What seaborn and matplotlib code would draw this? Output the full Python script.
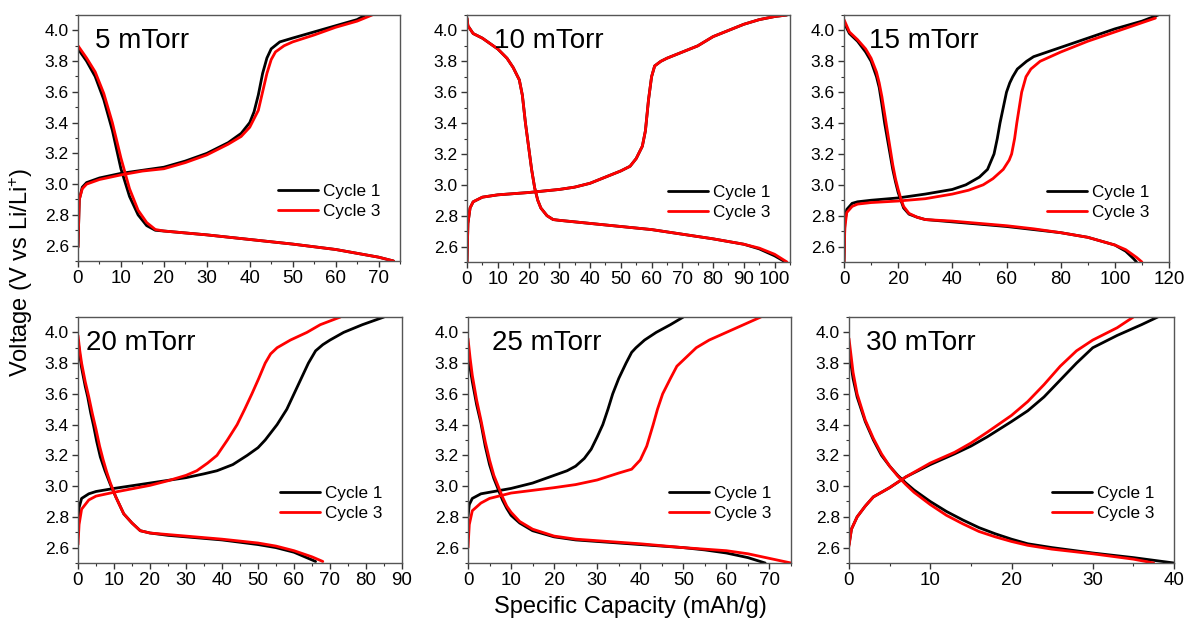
import numpy as np
import pandas as pd
import matplotlib
matplotlib.use("Agg")
import matplotlib.pyplot as plt
from matplotlib.lines import Line2D
from matplotlib.ticker import MultipleLocator, FormatStrFormatter
import seaborn as sns

# ---------------- data ----------------
panel_titles = ["5 mTorr", "10 mTorr", "15 mTorr", "20 mTorr", "25 mTorr", "30 mTorr"]
cycle_labels = ["Cycle 1", "Cycle 3"]

# 5 mTorr
p5_c1_dis_x = [0, 2, 4, 6, 8, 10, 12, 14, 16, 18, 20, 30, 40, 50, 60, 70, 73.5]
p5_c1_dis_y = [3.88, 3.80, 3.70, 3.55, 3.35, 3.10, 2.92, 2.80, 2.73, 2.70, 2.695, 2.67, 2.64, 2.61, 2.575, 2.525, 2.50]
p5_c3_dis_x = [0, 2, 4, 6, 8, 10, 12, 14, 16, 18, 20, 30, 40, 50, 60, 70, 73.5]
p5_c3_dis_y = [3.90, 3.82, 3.73, 3.59, 3.40, 3.17, 2.97, 2.83, 2.75, 2.705, 2.695, 2.67, 2.64, 2.61, 2.575, 2.525, 2.50]
p5_c1_chg_x = [0, 0.3, 1, 2, 5, 10, 15, 20, 25, 30, 35, 38, 40, 41, 42, 43, 44, 45, 47, 50, 55, 60, 65, 67]
p5_c1_chg_y = [2.59, 2.90, 2.98, 3.01, 3.04, 3.07, 3.09, 3.11, 3.15, 3.20, 3.27, 3.33, 3.40, 3.47, 3.58, 3.72, 3.82, 3.88, 3.925, 3.95, 3.99, 4.03, 4.07, 4.10]
p5_c3_chg_x = [0, 0.3, 1, 2, 5, 10, 15, 20, 25, 30, 35, 38, 40, 42, 43, 44, 45, 46, 48, 50, 55, 60, 65, 68.5]
p5_c3_chg_y = [2.59, 2.90, 2.97, 3.00, 3.03, 3.06, 3.085, 3.10, 3.14, 3.19, 3.26, 3.31, 3.37, 3.48, 3.60, 3.72, 3.81, 3.86, 3.90, 3.925, 3.97, 4.02, 4.06, 4.10]

# 10 mTorr
p10_c1_dis_x = [0, 0.3, 2, 5, 10, 13, 15, 17, 18, 19, 20, 21, 22, 23, 24, 26, 28, 30, 40, 50, 60, 70, 80, 90, 95, 100, 103.5]
p10_c1_dis_y = [4.08, 4.03, 3.98, 3.95, 3.88, 3.82, 3.76, 3.68, 3.58, 3.40, 3.25, 3.10, 2.98, 2.90, 2.85, 2.80, 2.775, 2.77, 2.75, 2.73, 2.71, 2.68, 2.65, 2.615, 2.585, 2.54, 2.50]
p10_c3_dis_x = [0, 0.3, 2, 5, 10, 13, 15, 17, 18, 19, 20, 21, 22, 23, 24, 26, 28, 30, 40, 50, 60, 70, 80, 90, 95, 100, 104]
p10_c3_dis_y = [4.08, 4.03, 3.98, 3.95, 3.88, 3.82, 3.76, 3.68, 3.58, 3.40, 3.25, 3.10, 2.98, 2.90, 2.85, 2.80, 2.775, 2.77, 2.75, 2.73, 2.71, 2.68, 2.65, 2.615, 2.59, 2.55, 2.50]
p10_c1_chg_x = [0, 0.3, 1, 2, 5, 10, 20, 30, 35, 40, 45, 50, 53, 55, 57, 58, 59, 60, 61, 63, 65, 70, 75, 80, 85, 90, 95, 100, 104]
p10_c1_chg_y = [2.50, 2.75, 2.85, 2.89, 2.92, 2.935, 2.95, 2.97, 2.985, 3.01, 3.05, 3.09, 3.12, 3.17, 3.25, 3.35, 3.55, 3.70, 3.77, 3.80, 3.82, 3.86, 3.90, 3.96, 4.00, 4.04, 4.07, 4.09, 4.10]
p10_c3_chg_x = [0, 0.3, 1, 2, 5, 10, 20, 30, 35, 40, 45, 50, 53, 55, 57, 58, 59, 60, 61, 63, 65, 70, 75, 80, 85, 90, 95, 100, 104]
p10_c3_chg_y = [2.50, 2.75, 2.85, 2.89, 2.92, 2.935, 2.95, 2.97, 2.985, 3.01, 3.05, 3.09, 3.12, 3.17, 3.25, 3.35, 3.55, 3.70, 3.77, 3.80, 3.82, 3.86, 3.90, 3.96, 4.00, 4.04, 4.07, 4.09, 4.10]

# 15 mTorr
p15_c1_dis_x = [0, 2, 5, 8, 10, 12, 13, 14, 15, 16, 17, 18, 19, 20, 21, 22, 24, 27, 30, 40, 50, 60, 70, 80, 90, 100, 104, 107, 108]
p15_c1_dis_y = [4.05, 3.98, 3.93, 3.86, 3.80, 3.70, 3.63, 3.52, 3.40, 3.30, 3.20, 3.10, 3.02, 2.95, 2.90, 2.85, 2.81, 2.79, 2.775, 2.76, 2.745, 2.73, 2.71, 2.69, 2.66, 2.61, 2.57, 2.52, 2.50]
p15_c3_dis_x = [0, 2, 5, 8, 10, 12, 13, 14, 15, 16, 17, 18, 19, 20, 21, 22, 24, 27, 30, 40, 50, 60, 70, 80, 90, 100, 104, 108, 110]
p15_c3_dis_y = [4.07, 3.99, 3.94, 3.88, 3.82, 3.73, 3.66, 3.57, 3.46, 3.35, 3.24, 3.13, 3.04, 2.97, 2.91, 2.86, 2.815, 2.79, 2.775, 2.765, 2.75, 2.735, 2.715, 2.69, 2.66, 2.61, 2.58, 2.53, 2.50]
p15_c1_chg_x = [0, 0.3, 1, 3, 5, 10, 20, 30, 40, 45, 50, 53, 55.4, 56.6, 57.6, 58.8, 60, 61.2, 62.3, 64, 67.4, 70, 80, 90, 100, 110, 116]
p15_c1_chg_y = [2.50, 2.75, 2.84, 2.88, 2.89, 2.90, 2.915, 2.94, 2.97, 3.00, 3.05, 3.10, 3.20, 3.30, 3.40, 3.50, 3.60, 3.66, 3.70, 3.75, 3.80, 3.83, 3.89, 3.95, 4.01, 4.06, 4.10]
p15_c3_chg_x = [0, 0.3, 1, 3, 5, 10, 20, 30, 40, 46, 51.4, 55, 58.8, 61, 61.9, 63, 63.8, 64.7, 65.6, 67.2, 69, 72.4, 80, 90, 100, 110, 115]
p15_c3_chg_y = [2.50, 2.72, 2.82, 2.86, 2.875, 2.885, 2.895, 2.91, 2.94, 2.965, 3.00, 3.04, 3.10, 3.16, 3.20, 3.30, 3.40, 3.50, 3.60, 3.70, 3.75, 3.80, 3.86, 3.93, 3.99, 4.05, 4.08]

# 20 mTorr
p20_c1_dis_x = [0, 0.5, 1, 2, 2.7, 3.5, 4.35, 5.2, 6.2, 7.5, 9, 10.5, 12.7, 15, 17.3, 20, 25, 30, 40, 50, 55, 60, 64, 66]
p20_c1_dis_y = [3.95, 3.85, 3.77, 3.65, 3.58, 3.48, 3.39, 3.29, 3.19, 3.10, 3.01, 2.93, 2.82, 2.76, 2.71, 2.695, 2.68, 2.67, 2.65, 2.62, 2.60, 2.57, 2.53, 2.51]
p20_c3_dis_x = [0, 0.5, 1, 2, 3, 4, 5, 6, 7, 8, 9, 10.5, 12.7, 15, 17.3, 20, 25, 30, 40, 50, 55, 60, 65, 68]
p20_c3_dis_y = [3.98, 3.88, 3.80, 3.68, 3.58, 3.47, 3.37, 3.26, 3.17, 3.09, 3.02, 2.93, 2.82, 2.76, 2.71, 2.695, 2.685, 2.675, 2.655, 2.63, 2.61, 2.58, 2.54, 2.51]
p20_c1_chg_x = [0, 0.3, 1, 3, 5, 10, 20, 30, 35, 38.6, 43, 47, 50, 52, 55.3, 58, 60, 62, 64, 66, 68, 70, 73.8, 79, 85]
p20_c1_chg_y = [2.72, 2.86, 2.92, 2.95, 2.965, 2.985, 3.02, 3.055, 3.08, 3.10, 3.14, 3.20, 3.25, 3.30, 3.40, 3.50, 3.60, 3.70, 3.80, 3.88, 3.92, 3.95, 4.00, 4.05, 4.10]
p20_c3_chg_x = [0, 0.3, 1, 3, 5, 10, 20, 25, 30, 33, 36, 38.6, 41.5, 44.2, 46.3, 48.3, 50.2, 52, 53.5, 55.3, 59, 63.6, 67.3, 72.9]
p20_c3_chg_y = [2.62, 2.75, 2.85, 2.91, 2.935, 2.96, 3.005, 3.035, 3.07, 3.10, 3.15, 3.20, 3.30, 3.40, 3.50, 3.60, 3.70, 3.80, 3.86, 3.90, 3.95, 4.00, 4.05, 4.10]

# 25 mTorr
p25_c1_dis_x = [0, 1, 2, 3, 4, 5, 6, 7, 8, 9, 10, 12, 15, 20, 25, 30, 40, 50, 55, 60, 65, 69]
p25_c1_dis_y = [3.85, 3.68, 3.53, 3.41, 3.26, 3.14, 3.05, 2.98, 2.91, 2.855, 2.81, 2.76, 2.71, 2.67, 2.65, 2.64, 2.62, 2.60, 2.585, 2.565, 2.535, 2.50]
p25_c3_dis_x = [0, 0.5, 1, 2, 3, 4, 5, 6, 7, 8, 9, 10, 12, 15, 20, 25, 30, 40, 50, 60, 65, 70, 75]
p25_c3_dis_y = [3.96, 3.83, 3.72, 3.56, 3.43, 3.29, 3.17, 3.07, 3.00, 2.93, 2.87, 2.83, 2.77, 2.72, 2.675, 2.655, 2.645, 2.625, 2.60, 2.58, 2.56, 2.53, 2.50]
p25_c1_chg_x = [0, 0.3, 1, 3, 5, 10, 15, 20, 23, 25, 27, 28.6, 30, 31.3, 32.5, 33.6, 35, 36.7, 38, 39, 41, 43.7, 47, 50]
p25_c1_chg_y = [2.80, 2.88, 2.92, 2.95, 2.96, 2.985, 3.02, 3.07, 3.10, 3.13, 3.18, 3.24, 3.32, 3.40, 3.50, 3.60, 3.70, 3.80, 3.87, 3.90, 3.95, 4.00, 4.05, 4.10]
p25_c3_chg_x = [0, 0.3, 1, 3, 5, 10, 20, 25, 30, 35, 38, 40, 41.5, 43, 44, 45.2, 47, 48.5, 50, 53, 56, 60, 64, 68]
p25_c3_chg_y = [2.60, 2.75, 2.84, 2.89, 2.92, 2.955, 2.99, 3.01, 3.04, 3.085, 3.11, 3.17, 3.26, 3.40, 3.50, 3.60, 3.70, 3.78, 3.82, 3.90, 3.95, 4.00, 4.05, 4.10]

# 30 mTorr
p30_c1_dis_x = [0, 0.5, 1, 2, 3, 4, 5, 6, 7, 8, 10, 12, 14, 16, 18, 20, 22, 25, 30, 35, 40]
p30_c1_dis_y = [3.88, 3.70, 3.58, 3.42, 3.30, 3.20, 3.13, 3.07, 3.02, 2.975, 2.90, 2.835, 2.78, 2.73, 2.69, 2.655, 2.625, 2.60, 2.565, 2.535, 2.50]
p30_c3_dis_x = [0, 0.5, 1, 2, 3, 4, 5, 6, 7, 8, 10, 12, 14, 16, 18, 20, 22, 25, 30, 35, 37.5]
p30_c3_dis_y = [3.96, 3.74, 3.60, 3.43, 3.31, 3.21, 3.13, 3.065, 3.01, 2.96, 2.88, 2.81, 2.755, 2.705, 2.67, 2.64, 2.615, 2.59, 2.56, 2.525, 2.50]
p30_c1_chg_x = [0, 0.3, 1, 2, 3, 5, 7, 10, 13, 15, 17, 20, 22, 24, 26, 28, 30, 33, 36, 38]
p30_c1_chg_y = [2.62, 2.72, 2.80, 2.87, 2.93, 2.99, 3.06, 3.14, 3.21, 3.26, 3.32, 3.42, 3.49, 3.58, 3.69, 3.80, 3.90, 3.98, 4.05, 4.10]
p30_c3_chg_x = [0, 0.3, 1, 2, 3, 5, 7, 10, 13, 15, 17, 20, 22, 24, 26, 28, 30, 33, 35]
p30_c3_chg_y = [2.61, 2.72, 2.80, 2.87, 2.93, 2.99, 3.06, 3.15, 3.22, 3.28, 3.35, 3.46, 3.55, 3.66, 3.78, 3.88, 3.95, 4.03, 4.10]

x_limits = [75, 105, 120, 90, 75, 40]
x_major = [10, 10, 20, 10, 10, 10]
y_ticks = [2.6, 2.8, 3.0, 3.2, 3.4, 3.6, 3.8, 4.0]

curves = [
    [(p5_c1_dis_x, p5_c1_dis_y, p5_c1_chg_x, p5_c1_chg_y), (p5_c3_dis_x, p5_c3_dis_y, p5_c3_chg_x, p5_c3_chg_y)],
    [(p10_c1_dis_x, p10_c1_dis_y, p10_c1_chg_x, p10_c1_chg_y), (p10_c3_dis_x, p10_c3_dis_y, p10_c3_chg_x, p10_c3_chg_y)],
    [(p15_c1_dis_x, p15_c1_dis_y, p15_c1_chg_x, p15_c1_chg_y), (p15_c3_dis_x, p15_c3_dis_y, p15_c3_chg_x, p15_c3_chg_y)],
    [(p20_c1_dis_x, p20_c1_dis_y, p20_c1_chg_x, p20_c1_chg_y), (p20_c3_dis_x, p20_c3_dis_y, p20_c3_chg_x, p20_c3_chg_y)],
    [(p25_c1_dis_x, p25_c1_dis_y, p25_c1_chg_x, p25_c1_chg_y), (p25_c3_dis_x, p25_c3_dis_y, p25_c3_chg_x, p25_c3_chg_y)],
    [(p30_c1_dis_x, p30_c1_dis_y, p30_c1_chg_x, p30_c1_chg_y), (p30_c3_dis_x, p30_c3_dis_y, p30_c3_chg_x, p30_c3_chg_y)],
]

# ---------------- style ----------------
sns.set_style("ticks")
plt.rcParams["font.family"] = ["Liberation Sans", "DejaVu Sans"]
plt.rcParams["mathtext.fontset"] = "custom"
plt.rcParams["mathtext.rm"] = "Liberation Sans"
plt.rcParams["mathtext.it"] = "Liberation Sans:italic"
plt.rcParams["text.color"] = "black"
plt.rcParams["axes.labelcolor"] = "black"
plt.rcParams["xtick.color"] = "black"
plt.rcParams["ytick.color"] = "black"
plt.rcParams["xtick.labelcolor"] = "black"
plt.rcParams["ytick.labelcolor"] = "black"

colors = {"Cycle 1": "#000000", "Cycle 3": "#ff0000"}
W, H = 1184, 619
fig = plt.figure(figsize=(W / 100, H / 100), dpi=100)
fig.patch.set_facecolor("white")

# axes pixel boxes (left, right, top, bottom)
boxes = [(78, 400, 15, 261), (467, 790, 15, 262), (844, 1169, 15, 262),
         (78, 402, 317, 563), (468, 791, 317, 563), (849, 1174, 317, 563)]
title_x = [0.053, 0.085, 0.078, 0.026, 0.075, 0.053]

for i, (l, r, t, b) in enumerate(boxes):
    ax = fig.add_axes([l / W, 1 - b / H, (r - l) / W, (b - t) / H])
    for ci, lab in enumerate(cycle_labels):
        dx, dy, cx, cy = curves[i][ci]
        for xs, ys in ((dx, dy), (cx, cy)):
            df = pd.DataFrame({"cap": xs, "volt": ys})
            sns.lineplot(data=df, x="cap", y="volt", sort=False, estimator=None,
                         color=colors[lab], lw=2.0, ax=ax, legend=False)
    ax.set_xlim(0, x_limits[i])
    ax.set_ylim(2.5, 4.1)
    ax.xaxis.set_major_locator(MultipleLocator(x_major[i]))
    ax.xaxis.set_minor_locator(MultipleLocator(x_major[i] / 2))
    ax.set_yticks(y_ticks)
    ax.yaxis.set_minor_locator(MultipleLocator(0.1))
    ax.yaxis.set_major_formatter(FormatStrFormatter("%.1f"))
    ax.tick_params(which="major", length=4.5, width=1, direction="out", pad=2,
                   color="#333333", labelcolor="black")
    ax.tick_params(axis="y", which="major", labelsize=12.5)
    ax.tick_params(axis="x", which="major", labelsize=13.5)
    ax.tick_params(which="minor", length=2.5, width=0.8, direction="out", color="#333333")
    for s in ax.spines.values():
        s.set_color("#555555")
        s.set_linewidth(1.0)
        s.set_visible(True)
    ax.set_xlabel("")
    ax.set_ylabel("")
    ax.text(title_x[i], 0.895, panel_titles[i], transform=ax.transAxes,
            fontsize=20, va="center", ha="left", color="black")
    handles = [Line2D([0], [0], color=colors[c], lw=2.0) for c in cycle_labels]
    leg = ax.legend(handles, cycle_labels, loc="lower right", bbox_to_anchor=(0.94, 0.17),
                    frameon=False, fontsize=12.3, handlelength=2.35, handletextpad=0.3,
                    labelspacing=0.28, borderpad=0, borderaxespad=0)
    for txt in leg.get_texts():
        txt.set_color("black")

fig.text(21 / W, 1 - 272 / H, "Voltage (V vs Li/Li$^{+}$)", rotation=90,
         fontsize=17, ha="center", va="center", color="black")
fig.text(630 / W, 1 - 607 / H, "Specific Capacity (mAh/g)", fontsize=17,
         ha="center", va="center", color="black")

fig.savefig("out.png", dpi=100, facecolor="white")
